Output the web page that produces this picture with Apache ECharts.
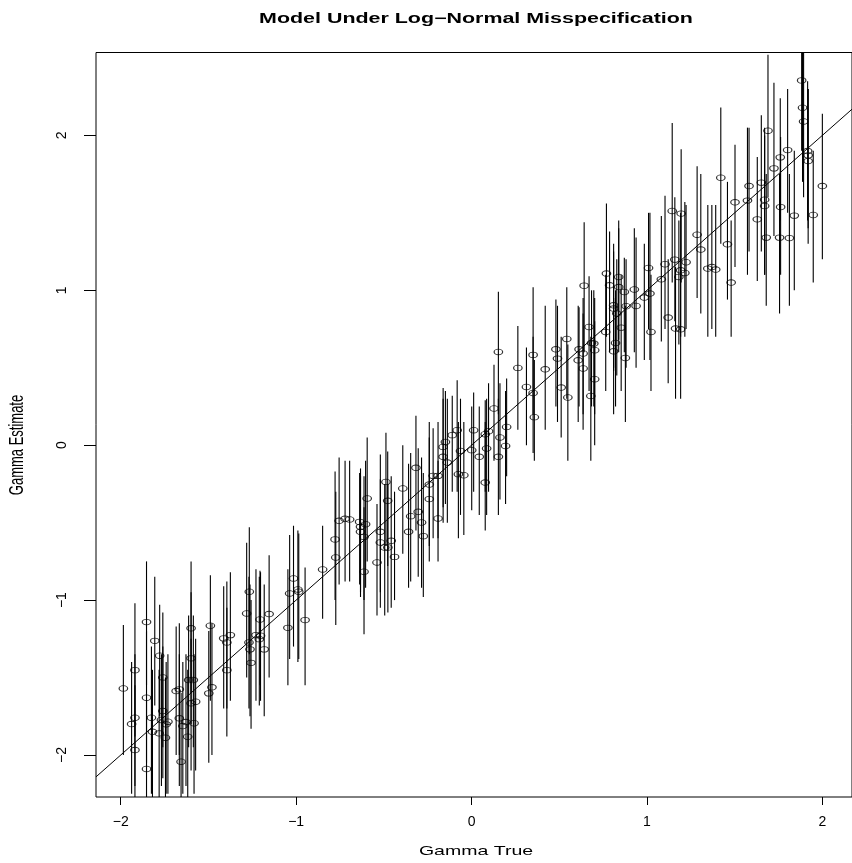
<!DOCTYPE html>
<html>
<head>
<meta charset="utf-8">
<script src="https://cdn.jsdelivr.net/npm/echarts@6/dist/echarts.min.js"></script>
<style>html,body{margin:0;padding:0;background:#fff}#c{width:852px;height:863px}</style>
</head>
<body>
<div id="c"></div>
<script>
// ---- Data ----
const titleText = 'Model Under Log\u2212Normal Misspecification';
const xName = 'Gamma True';
const yName = 'Gamma Estimate';
const xTicks = [-2, -1, 0, 1, 2];
const yTicks = [-2, -1, 0, 1, 2];

const gammaTrue = [
 -1.985,-1.853,-1.806,-1.919,-1.778,-1.919,-1.938,-1.853,-1.825,-1.919,-1.853,-1.760,-1.760,-1.768,-1.731,-1.741,-1.819,-1.781,-1.745,-1.684,-1.666,-1.666,-1.646,-1.656,-1.599,-1.599,-1.613,-1.599,-1.618,-1.628,-1.586,-1.573,-1.582,
 -1.489,-1.480,-1.498,-1.413,-1.375,-1.395,-1.395,-1.267,-1.282,-1.269,-1.263,-1.257,-1.206,-1.229,-1.203,-1.210,-1.182,-1.154,-1.047,-1.037,-1.015,-0.990,-0.985,-0.949,-0.849,-0.778,-0.774,-0.755,-0.721,-0.695,-0.638,-0.633,-0.633,-0.613,-0.595,-0.604,-0.613,
 -0.539,-0.520,-0.520,-0.488,-0.478,-0.495,-0.477,-0.458,-0.439,-0.392,-0.359,-0.347,-0.317,-0.304,-0.285,-0.275,-0.241,-0.241,-0.219,-0.191,-0.191,-0.162,-0.162,-0.149,-0.138,-0.110,
 -0.082,-0.063,-0.075,-0.044,0.001,0.012,0.044,0.078,0.097,0.086,0.078,0.128,0.153,0.162,0.153,0.200,0.194,0.264,0.313,0.351,0.351,0.358,0.420,0.481,0.490,0.543,0.511,0.549,
 0.613,0.608,0.636,0.636,0.642,0.670,0.684,0.697,0.702,0.702,0.680,
 0.769,0.787,0.765,0.839,0.839,0.810,0.810,0.828,0.871,0.881,0.853,0.821,0.810,0.877,
 0.928,0.938,0.985,1.017,1.009,1.023,1.082,1.103,1.121,1.144,
 1.195,1.159,1.192,1.182,1.216,1.223,1.163,1.192,1.286,1.307,
 1.347,1.370,1.392,1.421,1.459,1.480,1.502,1.573,1.582,1.629,
 1.652,1.671,1.671,1.680,1.690,1.724,1.756,1.762,1.760,1.802,
 1.812,1.840,1.882,1.887,1.893,1.916,1.919,1.919,1.948,2.000
];
const gammaEst = [
 -1.570,-1.142,-1.263,-1.452,-1.359,-1.759,-1.800,-1.630,-1.759,-1.968,-2.090,-1.499,-1.716,-1.774,-1.785,-1.802,-1.850,-1.860,-1.888,-1.587,-1.576,-1.763,-1.813,-2.043,-1.182,-1.376,-1.516,-1.666,-1.882,-1.787,-1.516,-1.656,-1.795,
 -1.165,-1.563,-1.602,-1.247,-1.226,-1.273,-1.452,-0.946,-1.086,-1.273,-1.318,-1.405,-1.125,-1.226,-1.230,-1.252,-1.318,-1.090,-1.179,-0.957,-0.860,-0.931,-0.946,-1.129,-0.802,-0.608,-0.725,-0.488,-0.475,-0.479,-0.495,-0.527,-0.559,-0.817,-0.344,-0.510,-0.592,
 -0.757,-0.559,-0.628,-0.237,-0.359,-0.660,-0.660,-0.617,-0.721,-0.279,-0.559,-0.458,-0.146,-0.430,-0.499,-0.587,-0.254,-0.348,-0.198,-0.198,-0.473,-0.075,-0.011,0.021,-0.112,0.065,
 0.097,-0.037,-0.187,-0.194,-0.032,0.097,-0.075,0.071,0.090,-0.021,-0.241,0.237,0.602,0.050,-0.075,0.118,-0.005,0.499,0.376,0.583,0.337,0.181,0.490,0.619,0.559,0.686,0.372,0.308,
 0.619,0.548,0.592,0.495,1.030,0.763,0.660,0.656,0.613,0.426,0.318,
 1.108,1.032,0.731,1.086,1.021,0.903,0.882,0.850,0.989,0.897,0.759,0.660,0.606,0.563,
 1.005,0.899,0.953,0.979,1.144,0.731,1.071,1.168,0.824,1.512,
 1.495,1.198,1.129,1.086,1.112,1.181,0.753,0.748,1.359,1.263,
 1.140,1.150,1.134,1.727,1.297,1.050,1.568,1.579,1.673,1.458,
 1.695,1.585,1.544,1.340,2.030,1.787,1.340,1.537,1.858,1.905,
 1.337,1.482,2.355,2.179,2.090,1.899,1.871,1.834,1.486,1.673
];
const ciHigh = [
 -1.16,-0.75,-0.85,-1.02,-1.03,-1.35,-1.40,-1.20,-1.30,-1.55,-1.65,-1.08,-1.30,-1.35,-1.35,-1.40,-1.45,-1.45,-1.50,-1.17,-1.15,-1.35,-1.40,-1.60,-0.75,-0.95,-1.10,-1.25,-1.45,-1.35,-1.10,-1.25,-1.35,
 -0.84,-1.15,-1.20,-0.91,-0.82,-0.88,-1.05,-0.53,-0.63,-0.85,-0.90,-1.00,-0.81,-0.80,-0.82,-0.85,-0.90,-0.71,-0.80,-0.58,-0.52,-0.55,-0.57,-0.79,-0.52,-0.17,-0.30,-0.08,-0.10,-0.10,-0.18,-0.15,-0.20,-0.40,0.05,-0.10,-0.20,
 -0.38,-0.06,-0.22,0.08,-0.04,-0.25,-0.25,-0.20,-0.30,0.00,-0.12,-0.05,0.19,-0.02,-0.08,-0.18,0.15,0.05,0.11,0.15,-0.10,0.37,0.30,0.35,0.30,0.32,
 0.42,0.30,0.15,0.15,0.25,0.34,0.25,0.29,0.40,0.30,0.15,0.52,0.99,0.40,0.30,0.43,0.35,0.77,0.63,1.02,0.70,0.55,0.90,0.94,0.90,1.02,0.70,0.65,
 0.89,0.90,0.95,0.85,1.44,1.09,1.00,1.00,0.95,0.80,0.70,
 1.56,1.38,1.10,1.45,1.40,1.30,1.25,1.20,1.21,1.20,1.10,1.00,0.95,0.90,
 1.40,1.34,1.30,1.50,1.50,1.10,1.48,1.61,1.20,2.08,
 1.91,1.60,1.50,1.45,1.57,1.55,1.15,1.15,1.80,1.75,
 1.55,1.55,1.55,2.18,1.70,1.45,1.94,2.05,2.05,1.86,
 2.13,2.05,2.00,1.75,2.52,2.34,1.75,1.99,2.24,2.30,
 1.75,1.90,2.80,2.65,2.55,2.35,2.30,2.30,1.90,2.14
];
const ciLow = [
 -2.00,-1.55,-1.68,-1.88,-1.75,-2.20,-2.25,-2.05,-2.25,-2.40,-2.55,-1.95,-2.15,-2.20,-2.25,-2.25,-2.30,-2.30,-2.35,-2.00,-2.00,-2.20,-2.25,-2.50,-1.60,-1.80,-1.95,-2.10,-2.35,-2.20,-1.95,-2.10,-2.25,
 -1.65,-2.00,-2.05,-1.70,-1.65,-1.70,-1.88,-1.35,-1.50,-1.70,-1.75,-1.83,-1.55,-1.65,-1.65,-1.68,-1.75,-1.50,-1.55,-1.38,-1.30,-1.40,-1.38,-1.55,-1.12,-1.00,-1.16,-0.90,-0.88,-0.88,-0.90,-0.95,-0.98,-1.22,-0.75,-0.92,-1.00,
 -1.10,-0.95,-1.05,-0.65,-0.78,-1.10,-1.08,-1.05,-1.00,-0.70,-0.92,-0.88,-0.55,-0.85,-0.92,-0.98,-0.65,-0.75,-0.60,-0.60,-0.75,-0.50,-0.40,-0.38,-0.50,-0.30,
 -0.30,-0.45,-0.60,-0.58,-0.42,-0.30,-0.45,-0.30,-0.30,-0.45,-0.55,-0.10,0.20,-0.35,-0.45,-0.20,-0.38,0.10,0.00,0.20,-0.05,-0.10,0.10,0.25,0.15,0.30,0.05,-0.10,
 0.25,0.15,0.20,0.10,0.60,0.35,0.25,0.25,0.20,0.00,-0.10,
 0.70,0.60,0.35,0.68,0.60,0.50,0.48,0.45,0.60,0.50,0.35,0.25,0.20,0.15,
 0.60,0.50,0.55,0.55,0.75,0.35,0.67,0.75,0.40,1.05,
 1.05,0.80,0.70,0.65,0.70,0.75,0.30,0.30,0.95,0.85,
 0.70,0.75,0.70,1.30,0.94,0.70,1.15,1.10,1.25,1.06,
 1.25,1.10,1.10,0.90,1.60,1.35,0.85,1.10,1.45,1.50,
 0.90,1.00,1.90,1.70,1.60,1.45,1.40,1.30,1.05,1.20
];
// reference line y = x
const refLine = [[-2.141, -2.141], [2.169, 2.169]];

// ---- Build ----
const n = Math.min(gammaTrue.length, gammaEst.length, ciLow.length, ciHigh.length);
const pts = [], bars = [];
for (let i = 0; i < n; i++) {
  pts.push([gammaTrue[i], gammaEst[i]]);
  bars.push([gammaTrue[i], ciLow[i], ciHigh[i]]);
}
const FONT = '"Liberation Sans", Arial, Helvetica, sans-serif';
const fmt = v => (v < 0 ? '\u2212' + Math.abs(v) : String(v));

const chart = echarts.init(document.getElementById('c'), null, {renderer: 'canvas'});
chart.setOption({
  animation: false,
  backgroundColor: '#fff',
  grid: {left: 96, top: 52.5, width: 764, height: 744.5, show: true, borderColor: '#000', borderWidth: 1, backgroundColor: 'transparent'},
  xAxis: {
    type: 'value', min: -2.141, max: 2.169, position: 'bottom',
    axisLine: {show: false, onZero: false},
    splitLine: {show: false},
    axisTick: {show: true, inside: false, length: 8, lineStyle: {color: '#000', width: 1}, customValues: xTicks},
    axisLabel: {show: true, margin: 18, fontSize: 14, fontFamily: FONT, color: '#000', customValues: xTicks, formatter: fmt}
  },
  yAxis: {
    type: 'value', min: -2.271, max: 2.535, position: 'left',
    axisLine: {show: false, onZero: false},
    splitLine: {show: false},
    axisTick: {show: true, inside: false, length: 12, lineStyle: {color: '#000', width: 1}, customValues: yTicks},
    axisLabel: {show: true, rotate: 90, margin: 27, fontSize: 14, fontFamily: FONT, color: '#000', customValues: yTicks, formatter: fmt}
  },
  graphic: [
    {type: 'text', x: 476, y: 19, scaleX: 1.53, silent: true,
     style: {text: titleText, font: 'bold 14px ' + FONT, fill: '#000', align: 'center', verticalAlign: 'middle'}},
    {type: 'text', x: 476, y: 851, scaleX: 1.5, silent: true,
     style: {text: xName, font: '13px ' + FONT, fill: '#000', align: 'center', verticalAlign: 'middle'}},
    {type: 'text', x: 18, y: 445, rotation: Math.PI / 2, scaleY: 1.5, silent: true,
     style: {text: yName, font: '13px ' + FONT, fill: '#000', align: 'center', verticalAlign: 'middle'}}
  ],
  series: [
    {
      type: 'custom', name: 'interval', silent: true,
      data: bars,
      renderItem: function (params, api) {
        const cs = params.coordSys;
        const p1 = api.coord([api.value(0), api.value(1)]);
        const p2 = api.coord([api.value(0), api.value(2)]);
        const top = cs.y, bot = cs.y + cs.height;
        let y1 = Math.min(Math.max(p1[1], top), bot);
        let y2 = Math.min(Math.max(p2[1], top), bot);
        return {type: 'line', shape: {x1: p1[0], y1: y1, x2: p2[0], y2: y2},
                style: {stroke: '#000', lineWidth: 1.1}};
      }
    },
    {
      type: 'line', name: 'ref', data: refLine, symbol: 'none', silent: true,
      lineStyle: {color: '#000', width: 1}, clip: true
    },
    {
      type: 'scatter', name: 'est', data: pts, silent: true,
      symbol: 'path://M1,0A1,1,0,1,1,-1,0A1,1,0,1,1,1,0Z',
      symbolSize: [8.5, 5.6],
      itemStyle: {color: 'rgba(0,0,0,0)', borderColor: '#000', borderWidth: 1}
    }
  ]
});
</script>
</body>
</html>
